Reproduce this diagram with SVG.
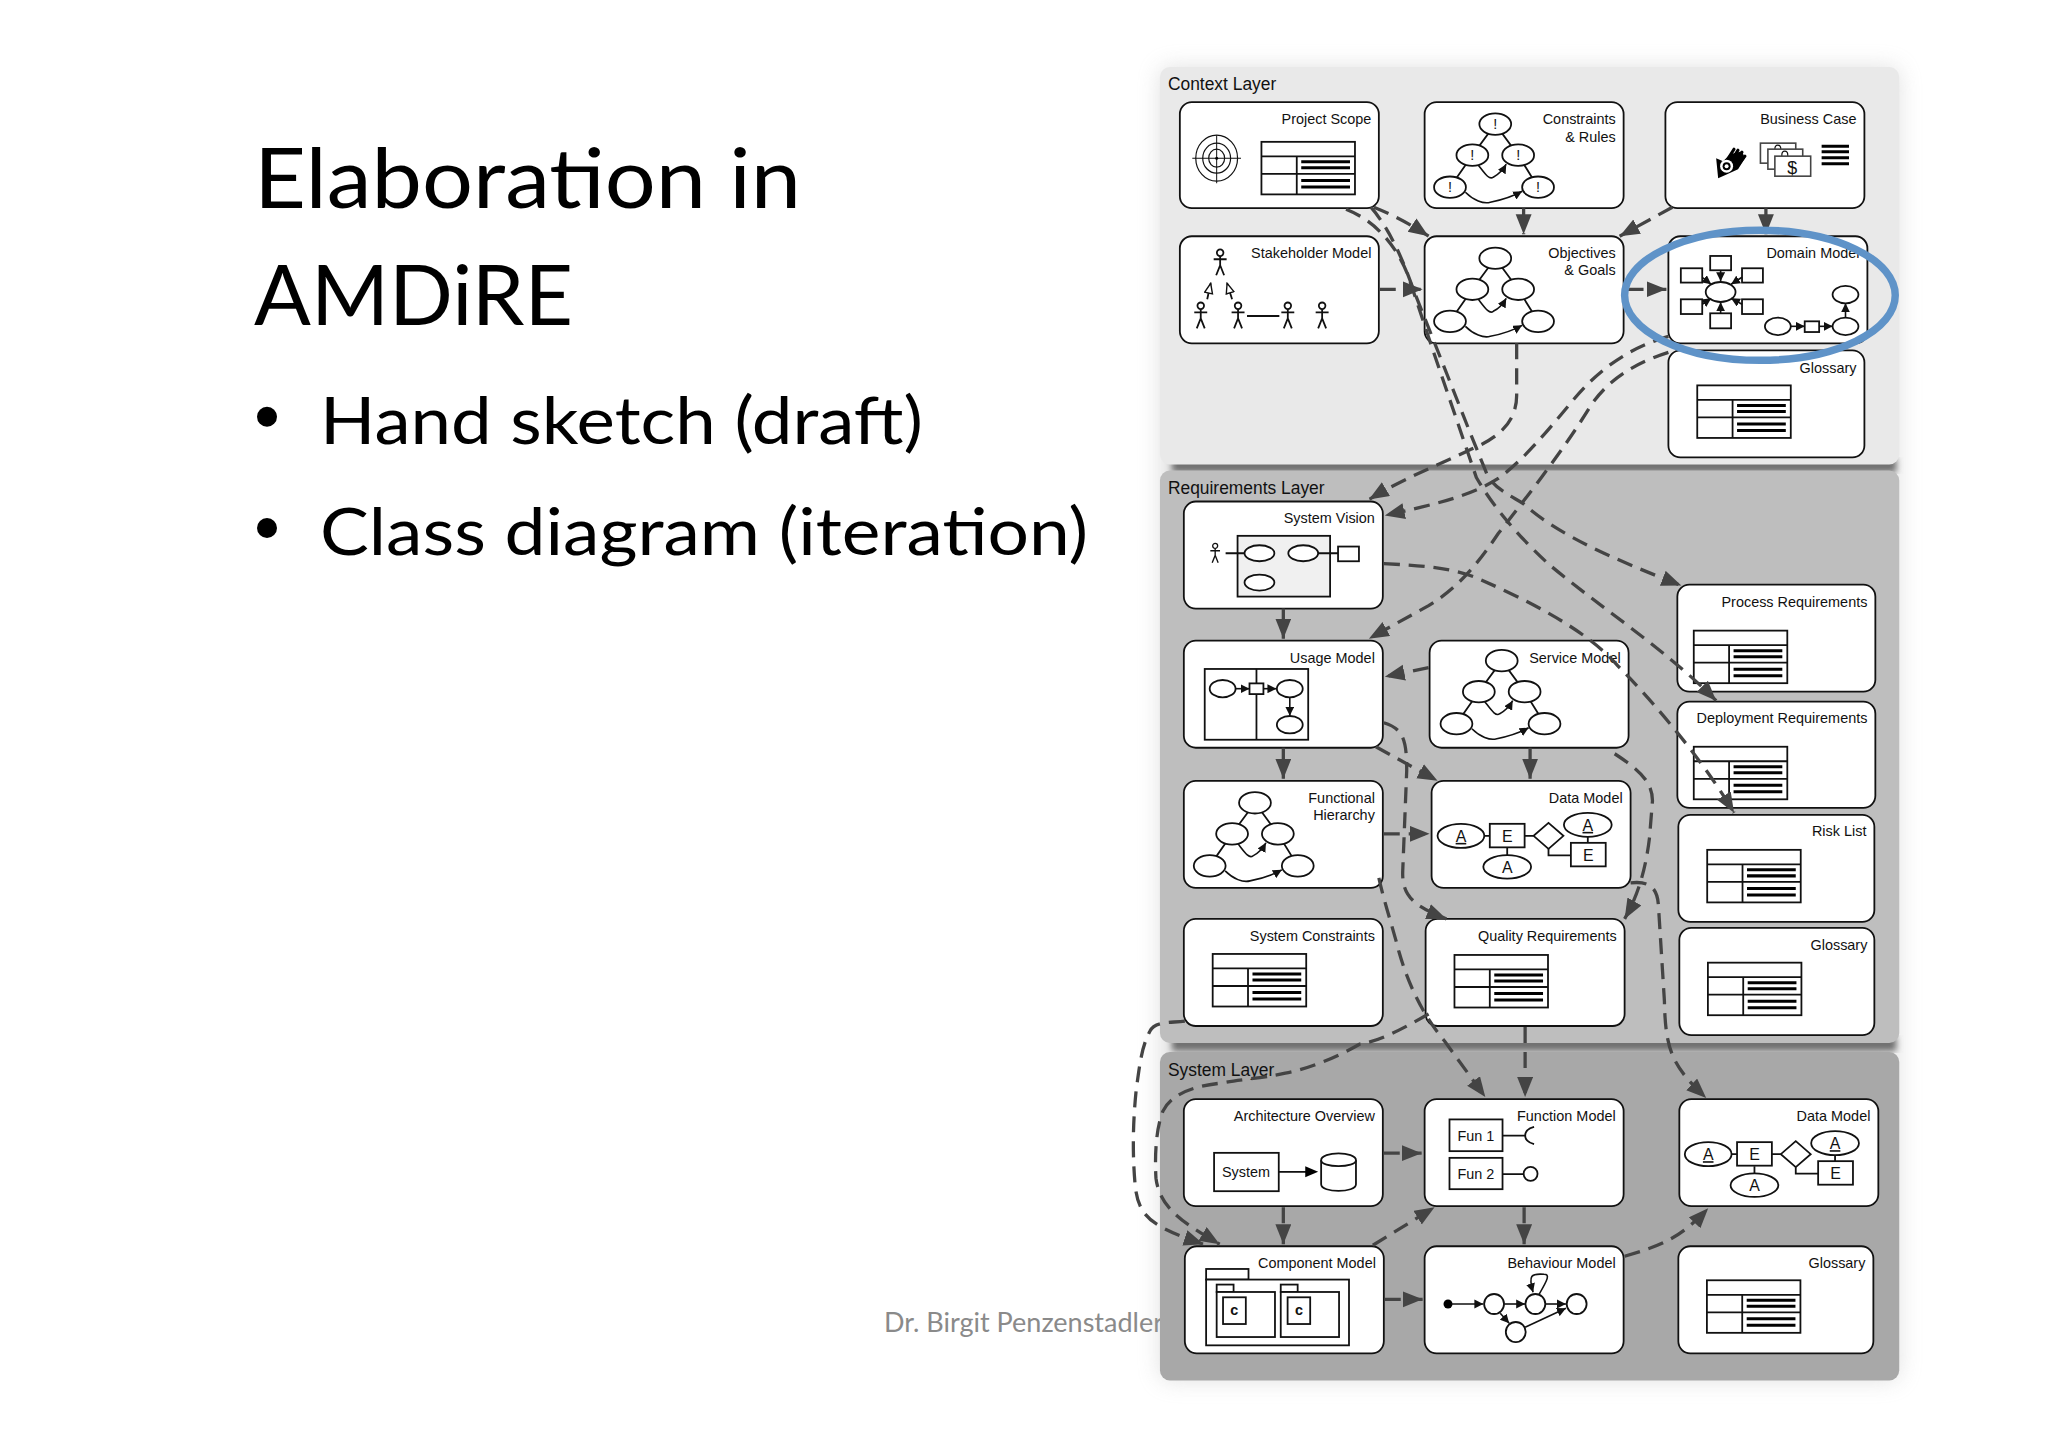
<svg xmlns="http://www.w3.org/2000/svg" xmlns:xlink="http://www.w3.org/1999/xlink" width="2048" height="1447" viewBox="0 0 2048 1447">
<style>
.t{font-family:"Liberation Sans",Arial,sans-serif;font-size:14.5px;fill:#111;text-anchor:end}
.m{font-family:"Liberation Sans",Arial,sans-serif;font-size:14.5px;fill:#111;text-anchor:middle}
.ly{font-family:"Liberation Sans",Arial,sans-serif;font-size:17.5px;fill:#111}
.h{font-family:Lato,"Open Sans",sans-serif;fill:#000}
.box{fill:#fff;stroke:#111;stroke-width:1.8}
.s{fill:#fff;stroke:#111;stroke-width:1.8}
.g{fill:#fff;stroke:#444;stroke-width:1.6}
.l{fill:none;stroke:#111;stroke-width:1.8}
.b{fill:none;stroke:#000;stroke-width:3}
.c{fill:none;stroke:#444;stroke-width:3.3;stroke-dasharray:16 9;marker-end:url(#ah)}
.a{fill:none;stroke:#111;stroke-width:1.6;marker-end:url(#sm)}
</style>
<defs>
<filter id="soft" x="-10%" y="-10%" width="120%" height="120%"><feGaussianBlur stdDeviation="3"/></filter>
<filter id="glow" x="-10%" y="-10%" width="120%" height="120%"><feGaussianBlur stdDeviation="11"/></filter>
<marker id="ah" markerUnits="userSpaceOnUse" markerWidth="21" markerHeight="17" refX="20" refY="8" orient="auto"><path d="M0 0L20 8L0 16z" fill="#444"/></marker>
<marker id="sm" markerUnits="userSpaceOnUse" markerWidth="10" markerHeight="9" refX="9" refY="4.500" orient="auto"><path d="M0 0L9 4.500L0 9z" fill="#111"/></marker>
<marker id="hol" markerUnits="userSpaceOnUse" markerWidth="12" markerHeight="12" refX="11" refY="5" orient="auto"><path d="M1 1L11 5L1 9z" fill="#fff" stroke="#111" stroke-width="1.4"/></marker>
<g id="table">
<rect class="s" width="94" height="52.500"/>
<path class="l" d="M0 14.500H94M0 32H94M35.500 14.500V52.500"/>
<path class="b" d="M40 20H89M40 26H89M40 38.500H89M40 45H89"/>
</g>
<g id="tree">
<path class="l" d="M0 0L-23 31L-45.500 63M0 0L23 31L43 63"/>
<path class="a" d="M-17 41C-10 50 -6 56 -2 53C2 51 7 47 11 40"/>
<path class="a" d="M-30 68C-22 76 -12 80 -5 78C5 76 18 72 27 67"/>
<ellipse class="s" cx="0" cy="0" rx="16" ry="10.700"/>
<ellipse class="s" cx="-23" cy="31" rx="16" ry="10.700"/>
<ellipse class="s" cx="23" cy="31" rx="16" ry="10.700"/>
<ellipse class="s" cx="-45.500" cy="63" rx="16" ry="10.700"/>
<ellipse class="s" cx="43" cy="63" rx="16" ry="10.700"/>
</g>
<g id="er">
<path class="l" d="M20 0H29M64 0H73M46.500 12V20M88 13V19.500H110.500M127.500 1V7"/>
<ellipse class="s" rx="23.500" ry="12"/>
<rect class="s" x="29" y="-12" width="35" height="23.500"/>
<path class="s" d="M88 -13L103 0L88 13L73 0z"/>
<ellipse class="s" cx="127.500" cy="-11" rx="24" ry="12"/>
<rect class="s" x="110.500" y="7" width="35" height="23.500"/>
<ellipse class="s" cx="46.500" cy="31" rx="24" ry="11.700"/>
<text class="m" x="0" y="6" text-decoration="underline" style="font-size:16px">A</text>
<text class="m" x="46.500" y="6" style="font-size:16px">E</text>
<text class="m" x="127.500" y="-5" text-decoration="underline" style="font-size:16px">A</text>
<text class="m" x="128" y="25" style="font-size:16px">E</text>
<text class="m" x="46.500" y="37" style="font-size:16px">A</text>
</g>
<g id="man">
<ellipse class="l" cx="0" cy="3.500" rx="3.300" ry="3.300"/>
<path class="l" d="M0 7V16L-4 26M0 16L4 26M-6.500 10H6.500"/>
</g>
</defs>
<rect width="2048" height="1447" fill="#fff"/>
<text class="h" x="254" y="208" font-size="84" textLength="547" lengthAdjust="spacingAndGlyphs">Elaboration in</text>
<text class="h" x="254" y="325" font-size="84" textLength="319" lengthAdjust="spacingAndGlyphs">AMDiRE</text>
<circle cx="267" cy="416.700" r="10" fill="#000"/>
<text class="h" x="320" y="444" font-size="66" textLength="603" lengthAdjust="spacingAndGlyphs">Hand sketch (draft)</text>
<circle cx="267" cy="528" r="10" fill="#000"/>
<text class="h" x="320" y="555" font-size="66" textLength="768" lengthAdjust="spacingAndGlyphs">Class diagram (iteration)</text>
<text x="884" y="1332" font-family="Lato,'Open Sans',sans-serif" font-size="27" fill="#8a8a8a">Dr. Birgit Penzenstadler</text>
<g id="diagram" transform="translate(5.750 0) scale(.995 1.001)">
<g id="layers">
<rect x="1160" y="67" width="743" height="1312" rx="10" fill="#aaa" opacity=".35" filter="url(#glow)"/>
<rect x="1172" y="458" width="728" height="14" fill="#6f6f6f" filter="url(#soft)"/>
<rect x="1160" y="67" width="743" height="397" rx="10" fill="#e9e9e9"/>
<rect x="1172" y="1036" width="728" height="14" fill="#6f6f6f" filter="url(#soft)"/>
<rect x="1160" y="470" width="743" height="572" rx="10" fill="#bebebe"/>
<rect x="1160" y="1051" width="743" height="328" rx="10" fill="#a8a8a8"/>
<text class="ly" x="1168" y="90">Context Layer</text>
<text class="ly" x="1168" y="494">Requirements Layer</text>
<text class="ly" x="1168" y="1075">System Layer</text>
</g>
<g id="project-scope">
<rect class="box" x="1180" y="102" width="200" height="106" rx="12"/>
<text class="t" x="1372.500" y="124">Project Scope</text>
<path class="l" d="M1192.500 158H1241.500M1217 135V183" style="stroke-width:1"/>
<ellipse class="l" cx="1217" cy="158" rx="21" ry="23" style="stroke-width:1.200"/><ellipse class="l" cx="1217" cy="158" rx="14" ry="15" style="stroke-width:1.200"/><ellipse class="l" cx="1217" cy="158" rx="8" ry="9" style="stroke-width:1.200"/>
<circle cx="1217" cy="158" r="1.500"/>
<use href="#table" xlink:href="#table" x="1262" y="141.700"/>
</g>
<g id="constraints-rules">
<rect class="box" x="1426" y="102" width="200" height="106" rx="12"/>
<text class="t" x="1618" y="124">Constraints</text><text class="t" x="1618" y="142">&amp; Rules</text>
<use href="#tree" xlink:href="#tree" x="1497" y="124"/>
<text class="m" x="1497" y="129">!</text><text class="m" x="1474" y="160">!</text><text class="m" x="1520" y="160">!</text><text class="m" x="1451.500" y="192">!</text><text class="m" x="1540" y="192">!</text>
</g>
<g id="business-case">
<rect class="box" x="1668" y="102" width="200" height="106" rx="12"/>
<text class="t" x="1860" y="124">Business Case</text>
<path d="M1719 158L1726 161L1733 154L1745 151L1748 158L1741 169L1730 174L1721 178z" fill="#000"/>
<path d="M1730 160L1737 149M1734 161L1741 150M1738 162L1745 152M1741 165L1748 156" stroke="#000" stroke-width="3" stroke-linecap="round" fill="none"/>
<circle cx="1729.500" cy="166" r="6.500" fill="#fff"/><circle cx="1729.500" cy="166" r="4" fill="#000"/><circle cx="1729.500" cy="166" r="2" fill="#fff"/>
<rect class="g" x="1763.500" y="143" width="35.500" height="20"/><ellipse class="l" cx="1781" cy="149" rx="3" ry="4" style="stroke-width:1.200"/><rect class="g" x="1771" y="149" width="35" height="20"/><ellipse class="l" cx="1788" cy="155" rx="3" ry="4" style="stroke-width:1.200"/><rect class="g" x="1778" y="156" width="36" height="20"/>
<text class="m" x="1795.500" y="173.500" style="font-size:18px">$</text>
<path class="b" d="M1825 146H1852.500M1825 151.500H1852.500M1825 157.500H1852.500M1825 163.500H1852.500"/>
</g>
<g id="stakeholder-model">
<rect class="box" x="1180" y="236" width="200" height="107" rx="12"/>
<text class="t" x="1372.500" y="258">Stakeholder Model</text>
<use href="#man" xlink:href="#man" x="1220.500" y="249"/><use href="#man" xlink:href="#man" x="1201" y="302"/><use href="#man" xlink:href="#man" x="1238.500" y="302"/><use href="#man" xlink:href="#man" x="1288.500" y="302"/><use href="#man" xlink:href="#man" x="1323" y="302"/>
<path class="l" d="M1247.500 315.700H1280"/>
<path class="l" d="M1207.500 299L1211 283" marker-end="url(#hol)"/><path class="l" d="M1232.500 299L1227.500 283" marker-end="url(#hol)"/>
</g>
<g id="objectives-goals">
<rect class="box" x="1426" y="236" width="200" height="107" rx="12"/>
<text class="t" x="1618" y="258">Objectives</text><text class="t" x="1618" y="275">&amp; Goals</text>
<use href="#tree" xlink:href="#tree" x="1497" y="258"/>
</g>
<g id="domain-model">
<rect class="box" x="1671" y="236" width="200" height="107" rx="12"/>
<text class="t" x="1863" y="258">Domain Model</text>
<rect class="s" x="1713" y="255.700" width="21" height="14.300"/><rect class="s" x="1683.500" y="268" width="21.500" height="14.300"/><rect class="s" x="1745" y="268" width="21" height="14.300"/><rect class="s" x="1683.500" y="299" width="21.500" height="14.700"/><rect class="s" x="1745" y="299" width="21" height="14.700"/><rect class="s" x="1713" y="313" width="21" height="15"/>
<ellipse class="s" cx="1723.500" cy="291.700" rx="15" ry="10"/>
<path class="a" d="M1723.500 270V281"/><path class="a" d="M1705 277L1714 284"/><path class="a" d="M1745 277L1734 284"/><path class="a" d="M1705 304L1714 298"/><path class="a" d="M1745 304L1734 298"/><path class="a" d="M1723.500 313V302"/>
<ellipse class="s" cx="1849" cy="294.300" rx="13" ry="8.700"/><ellipse class="s" cx="1849" cy="326" rx="13" ry="8.700"/><ellipse class="s" cx="1781" cy="326" rx="13" ry="8.700"/>
<rect class="s" x="1808" y="321" width="14.500" height="10.700"/>
<path class="a" d="M1794 326H1808"/><path class="a" d="M1822.500 326H1836"/><path class="a" d="M1849 317V303"/>
</g>
<g id="context-glossary">
<rect class="box" x="1671" y="350" width="197" height="107" rx="12"/>
<text class="t" x="1860" y="373">Glossary</text>
<use href="#table" xlink:href="#table" x="1700" y="385"/>
</g>
<g id="system-vision">
<rect class="box" x="1184" y="501" width="200" height="107" rx="12"/>
<text class="t" x="1376" y="522">System Vision</text>
<rect x="1238" y="535.300" width="93" height="60.700" fill="#f0f0f0" stroke="#111" stroke-width="1.800"/>
<path class="l" d="M1226 552.700H1245M1319 552.700H1339"/>
<ellipse class="s" cx="1260" cy="552.700" rx="15" ry="8"/><ellipse class="s" cx="1304" cy="552.700" rx="15" ry="8"/><ellipse class="s" cx="1260" cy="582" rx="15" ry="8"/>
<rect class="s" x="1339" y="546" width="21" height="14.700"/>
<g transform="translate(1215.500 542.700) scale(.75)"><use href="#man" xlink:href="#man"/></g>
</g>
<g id="usage-model">
<rect class="box" x="1184" y="640" width="200" height="107" rx="12"/>
<text class="t" x="1376" y="662">Usage Model</text>
<rect class="s" x="1205" y="668.300" width="104" height="70.700"/><path class="l" d="M1257 668.300V739"/>
<ellipse class="s" cx="1223" cy="688" rx="13" ry="8.700"/><ellipse class="s" cx="1290.500" cy="688" rx="13" ry="8.700"/><ellipse class="s" cx="1290.500" cy="724" rx="13" ry="8.700"/>
<rect class="s" x="1250" y="682.700" width="14" height="10.700"/>
<path class="a" d="M1236 688H1250"/><path class="a" d="M1264 688H1277"/><path class="a" d="M1290.500 697V715"/>
</g>
<g id="service-model">
<rect class="box" x="1431" y="640" width="200" height="107" rx="12"/>
<text class="t" x="1623" y="662">Service Model</text>
<use href="#tree" xlink:href="#tree" x="1503.500" y="660"/>
</g>
<g id="functional-hierarchy">
<rect class="box" x="1184" y="780" width="200" height="107" rx="12"/>
<text class="t" x="1376" y="802">Functional</text><text class="t" x="1376" y="819">Hierarchy</text>
<use href="#tree" xlink:href="#tree" x="1255.500" y="802"/>
</g>
<g id="req-data-model">
<rect class="box" x="1433" y="780" width="200" height="107" rx="12"/>
<text class="t" x="1625" y="802">Data Model</text>
<use href="#er" xlink:href="#er" x="1462.500" y="835"/>
</g>
<g id="process-requirements">
<rect class="box" x="1680" y="584" width="199" height="107" rx="12"/>
<text class="t" x="1871" y="606">Process Requirements</text>
<use href="#table" xlink:href="#table" x="1696.500" y="630"/>
</g>
<g id="deployment-requirements">
<rect class="box" x="1680" y="701" width="199" height="106" rx="12"/>
<text class="t" x="1871" y="722">Deployment Requirements</text>
<use href="#table" xlink:href="#table" x="1696.500" y="746"/>
</g>
<g id="risk-list">
<rect class="box" x="1681" y="814" width="197" height="107" rx="12"/>
<text class="t" x="1870" y="835">Risk List</text>
<use href="#table" xlink:href="#table" x="1710" y="849"/>
</g>
<g id="req-glossary">
<rect class="box" x="1682" y="927" width="196" height="107" rx="12"/>
<text class="t" x="1871" y="949">Glossary</text>
<use href="#table" xlink:href="#table" x="1710.700" y="961.700"/>
</g>
<g id="system-constraints">
<rect class="box" x="1184" y="918" width="200" height="107" rx="12"/>
<text class="t" x="1376" y="940">System Constraints</text>
<use href="#table" xlink:href="#table" x="1213" y="953"/>
</g>
<g id="quality-requirements">
<rect class="box" x="1427" y="918" width="200" height="107" rx="12"/>
<text class="t" x="1619" y="940">Quality Requirements</text>
<use href="#table" xlink:href="#table" x="1456" y="954"/>
</g>
<g id="architecture-overview">
<rect class="box" x="1184" y="1098" width="200" height="107" rx="12"/>
<text class="t" x="1376" y="1120">Architecture Overview</text>
<rect class="s" x="1214.400" y="1151.700" width="65" height="38.300"/>
<text class="m" x="1246.500" y="1176">System</text>
<path class="l" d="M1279.400 1170.700H1308"/><path d="M1306 1165L1319 1170.700L1306 1176z" fill="#000"/>
<path class="s" d="M1322 1159C1322 1150 1357 1150 1357 1159V1183C1357 1192 1322 1192 1322 1183z"/><path class="l" d="M1322 1159C1322 1167 1357 1167 1357 1159"/>
</g>
<g id="function-model">
<rect class="box" x="1426" y="1098" width="200" height="107" rx="12"/>
<text class="t" x="1618" y="1120">Function Model</text>
<rect class="s" x="1451" y="1118.300" width="53.300" height="31.700"/><text class="m" x="1477.500" y="1140">Fun 1</text>
<rect class="s" x="1451" y="1156.700" width="53.300" height="31.300"/><text class="m" x="1477.500" y="1178">Fun 2</text>
<path class="l" d="M1504.300 1134.500H1528M1536 1125.700C1524 1129 1524 1140 1536 1143M1504.300 1173H1525.600"/>
<ellipse class="s" cx="1532.500" cy="1172.700" rx="7" ry="7"/>
</g>
<g id="system-data-model">
<rect class="box" x="1682" y="1098" width="200" height="107" rx="12"/>
<text class="t" x="1874" y="1120">Data Model</text>
<use href="#er" xlink:href="#er" x="1711" y="1153"/>
</g>
<g id="component-model">
<rect class="box" x="1185" y="1245" width="200" height="107" rx="12"/>
<text class="t" x="1377" y="1267">Component Model</text>
<rect class="s" x="1206.400" y="1267.700" width="42.600" height="10.600"/><rect class="s" x="1206.400" y="1278.300" width="143.600" height="65.700"/>
<rect class="s" x="1217" y="1283.300" width="17" height="7.400"/><rect class="s" x="1217" y="1290.700" width="58.600" height="45"/><rect class="s" x="1223.400" y="1296" width="22.900" height="26.700"/>
<rect class="s" x="1281.400" y="1283.300" width="17" height="7.400"/><rect class="s" x="1281.400" y="1290.700" width="58.600" height="45"/><rect class="s" x="1288.300" y="1296" width="22.700" height="26.700"/>
<text class="m" x="1234.800" y="1314" font-weight="bold">c</text><text class="m" x="1299.700" y="1314" font-weight="bold">c</text>
</g>
<g id="behaviour-model">
<rect class="box" x="1426" y="1245" width="200" height="107" rx="12"/>
<text class="t" x="1618" y="1267">Behaviour Model</text>
<circle cx="1449.500" cy="1302.700" r="4.500" fill="#000"/>
<ellipse class="s" cx="1495.800" cy="1302.700" rx="10" ry="10"/><ellipse class="s" cx="1537.300" cy="1302.700" rx="10" ry="10"/><ellipse class="s" cx="1578.800" cy="1302.700" rx="10" ry="10"/><ellipse class="s" cx="1517.600" cy="1330.700" rx="10" ry="10"/>
<path class="a" d="M1453 1302.700H1485"/><path class="a" d="M1506 1302.700H1527"/><path class="a" d="M1548 1302.700H1568"/><path class="a" d="M1502 1312L1511 1322"/><path class="a" d="M1527 1326L1568 1307"/><path class="a" d="M1541 1293C1550 1278 1552 1273 1546 1273C1533 1272 1530 1274 1535 1291"/>
</g>
<g id="system-glossary">
<rect class="box" x="1681" y="1245" width="196" height="107" rx="12"/>
<text class="t" x="1869" y="1267">Glossary</text>
<use href="#table" xlink:href="#table" x="1709.700" y="1279"/>
</g>
<g id="connectors">
<path class="c" d="M1375 207C1395 215 1415 226 1430 236"/>
<path class="c" d="M1525.500 208V234"/>
<path class="c" d="M1675 207L1622 236"/>
<path class="c" d="M1769 208V234"/>
<path class="c" d="M1381 289H1424"/>
<path class="c" d="M1630 289H1669"/>
<path class="c" d="M1518.500 343V395C1518.500 425 1495 440 1470 450C1440 465 1410 475 1370 499"/>
<path class="c" d="M1671 336C1630 348 1600 370 1575 400C1550 430 1525 460 1500 478C1470 497 1430 505 1386 515"/>
<path class="c" d="M1671 352C1630 365 1605 385 1590 410C1565 450 1530 495 1500 533C1475 570 1455 590 1430 605L1370 638"/>
<path class="c" d="M1347 209C1380 222 1400 250 1410 277L1432 343L1478 477C1497 510 1525 540 1550 563C1600 605 1670 650 1719 700"/>
<path class="c" d="M1372 207C1392 230 1405 262 1415 290L1435 340L1472 433L1490 477C1500 490 1512 495 1525 503C1560 535 1620 560 1684 585"/>
<path class="c" d="M1385 563C1420 565 1450 566 1480 578C1530 600 1590 630 1620 665C1645 690 1700 750 1737 812"/>
<path class="c" d="M1284 608V638"/>
<path class="c" d="M1284 747V778"/>
<path class="c" d="M1430 667L1386 676"/>
<path class="c" d="M1532 747V778"/>
<path class="c" d="M1377 746L1439 780"/>
<path class="c" d="M1385 833H1431"/>
<path class="c" d="M1385 722C1405 728 1408 740 1408 770L1404 870C1403 895 1415 905 1448 918"/>
<path class="c" d="M1617 753C1640 768 1655 780 1655 800L1652 837C1648 870 1640 895 1627 918"/>
<path class="c" d="M1633 882C1650 880 1660 885 1661 905L1667 1000C1668 1050 1675 1065 1709 1097"/>
<path class="c" d="M1380 877C1385 900 1395 930 1400 950C1410 985 1425 1015 1446 1040L1487 1096"/>
<path class="c" d="M1527 1026V1096"/>
<path class="c" d="M1430 1013C1400 1030 1380 1040 1361 1043C1340 1055 1310 1068 1286 1072C1260 1078 1240 1078 1222 1082C1190 1085 1170 1095 1163 1110C1155 1130 1155 1160 1156 1177C1160 1210 1190 1225 1220 1243"/>
<path class="c" d="M1185 1020C1170 1022 1155 1020 1150 1030C1142 1045 1140 1060 1136 1090C1132 1130 1133 1160 1135 1183C1138 1215 1150 1225 1204 1243"/>
<path class="c" d="M1385 1152H1423"/>
<path class="c" d="M1284 1206V1243"/>
<path class="c" d="M1526 1206V1243"/>
<path class="c" d="M1386 1298H1424"/>
<path class="c" d="M1374 1244L1436 1206"/>
<path class="c" d="M1627 1255C1660 1245 1680 1240 1711 1207"/>
</g>
<ellipse id="highlight" cx="1763" cy="295" rx="136" ry="65" fill="none" stroke="#5f93c8" stroke-width="7.500"/>
</g>
</svg>
